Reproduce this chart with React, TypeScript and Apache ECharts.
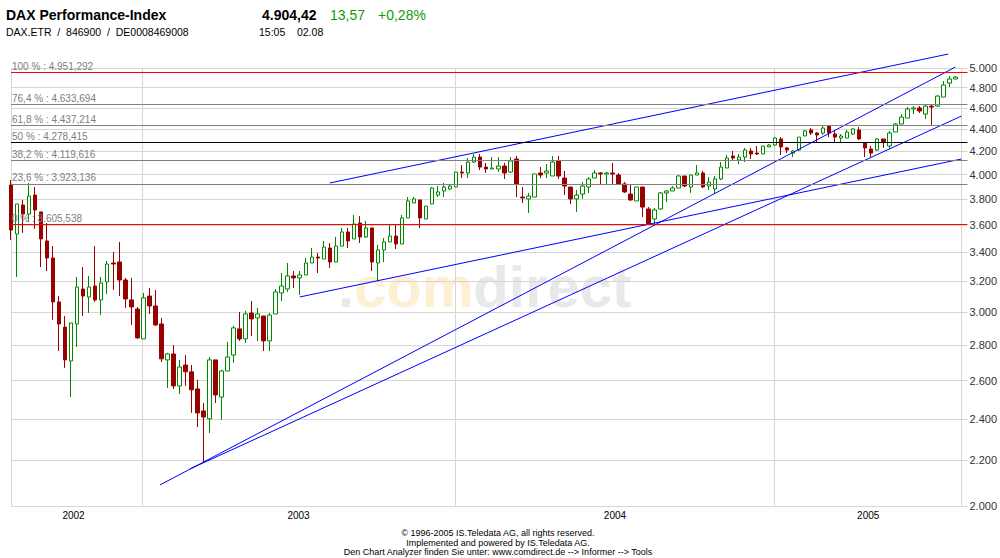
import React, { useEffect, useRef } from "react";
import * as echarts from "echarts";

// weekly DAX candles, index 0 = first visible week (mid 2002) ... 157 = week of 02.08.2005
const openValues = [
  3914, 3533, 3754, 3684, 3833, 3700, 3482, 3360, 3065, 2908, 2709, 2927, 3149, 3097, 3169, 3078, 3196, 3325, 3332, 3209,
  3078, 3020, 2837, 3103, 3039, 2927, 2715, 2749, 2571, 2686, 2648, 2555, 2440, 2400, 2715, 2512, 2653, 2743, 2897, 2837,
  2995, 2964, 2976, 2825, 2989, 3123, 3149, 3236, 3223, 3243, 3325, 3367, 3353, 3431, 3332, 3445, 3548, 3497, 3615, 3511,
  3578, 3325, 3417, 3475, 3518, 3460, 3654, 3770, 3794, 3646, 3762, 3833, 3866, 3882, 3898, 4022, 4014, 4107, 4150, 4064,
  4048, 4048, 4073, 4022, 4133, 3817, 3802, 3817, 4014, 4014, 3989, 4116, 3972, 3898, 3802, 3841, 3898, 3972, 4014, 4006,
  4014, 3997, 3923, 3841, 3786, 3898, 3723, 3646, 3723, 3850, 3866, 3890, 3989, 3898, 3997, 4014, 3906, 3882, 3964, 4056,
  4159, 4125, 4150, 4203, 4185, 4177, 4239, 4256, 4310, 4230, 4185, 4212, 4337, 4392, 4364, 4364, 4428, 4355, 4319, 4319,
  4355, 4392, 4274, 4221, 4212, 4310, 4247, 4373, 4447, 4503, 4589, 4599, 4541, 4617, 4617, 4705, 4845, 4886,
];
const highValues = [
  3956, 3762, 3794, 3931, 3898, 3700, 3615, 3445, 3103, 2976, 2933, 3229, 3297, 3236, 3445, 3229, 3339, 3403, 3475, 3223,
  3223, 3033, 3123, 3156, 3143, 2964, 2755, 2801, 2715, 2743, 2686, 2604, 2481, 2731, 2715, 2659, 2819, 2915, 3001, 3008,
  3071, 3027, 2976, 2995, 3149, 3256, 3325, 3270, 3270, 3360, 3431, 3396, 3482, 3467, 3511, 3578, 3578, 3676, 3668, 3631,
  3578, 3453, 3504, 3600, 3600, 3676, 3817, 3817, 3794, 3746, 3898, 3906, 3931, 3923, 4022, 4081, 4142, 4177, 4177, 4099,
  4150, 4150, 4099, 4150, 4159, 3898, 3850, 4006, 4064, 4090, 4159, 4159, 4031, 3898, 3874, 3939, 3980, 4039, 4022, 4022,
  4099, 4014, 3939, 3914, 3898, 3898, 3738, 3731, 3858, 3874, 3906, 3997, 3989, 3997, 4081, 4031, 3980, 3989, 4107, 4168,
  4203, 4177, 4230, 4230, 4247, 4247, 4265, 4327, 4327, 4239, 4212, 4327, 4392, 4410, 4373, 4428, 4428, 4392, 4355, 4392,
  4410, 4419, 4274, 4247, 4319, 4310, 4383, 4456, 4541, 4608, 4617, 4617, 4627, 4627, 4725, 4866, 4917, 4917,
];
const lowValues = [
  3489, 3229, 3541, 3623, 3571, 3297, 3270, 2952, 2766, 2670, 2512, 2789, 2976, 2995, 3065, 2982, 3116, 3143, 3103, 3027,
  2921, 2837, 2837, 2989, 2915, 2703, 2560, 2555, 2528, 2571, 2430, 2359, 2189, 2330, 2481, 2395, 2653, 2698, 2825, 2813,
  2854, 2825, 2766, 2766, 2989, 3071, 3130, 3156, 3110, 3243, 3325, 3256, 3353, 3291, 3332, 3445, 3431, 3497, 3467, 3504,
  3270, 3202, 3332, 3475, 3424, 3460, 3654, 3770, 3578, 3646, 3762, 3817, 3817, 3874, 3898, 3972, 3972, 4099, 4039, 4014,
  4048, 4022, 3964, 4014, 3817, 3770, 3692, 3817, 3972, 3972, 3989, 3964, 3833, 3762, 3700, 3802, 3850, 3972, 3923, 3914,
  3914, 3914, 3850, 3786, 3786, 3661, 3600, 3608, 3715, 3778, 3866, 3890, 3898, 3850, 3997, 3890, 3874, 3841, 3956, 4056,
  4125, 4090, 4107, 4133, 4168, 4177, 4239, 4247, 4168, 4185, 4150, 4203, 4337, 4346, 4274, 4346, 4327, 4283, 4274, 4319,
  4346, 4301, 4150, 4150, 4203, 4230, 4221, 4373, 4447, 4503, 4541, 4551, 4494, 4438, 4608, 4705, 4805, 4886,
];
const closeValues = [
  3563, 3762, 3684, 3825, 3715, 3497, 3360, 3065, 2927, 2715, 2933, 3162, 3103, 3162, 3078, 3189, 3318, 3318, 3209, 3084,
  3033, 2843, 3091, 3039, 2921, 2721, 2749, 2571, 2675, 2648, 2550, 2430, 2409, 2715, 2523, 2653, 2731, 2903, 2837, 2989,
  2958, 2989, 2825, 2982, 3130, 3169, 3236, 3223, 3243, 3325, 3367, 3360, 3438, 3332, 3445, 3548, 3482, 3608, 3511, 3578,
  3332, 3417, 3475, 3518, 3460, 3654, 3786, 3802, 3654, 3746, 3890, 3858, 3898, 3906, 4022, 4014, 4107, 4150, 4064, 4048,
  4056, 4073, 4014, 4116, 3923, 3810, 3825, 4006, 3997, 4031, 4107, 3989, 3906, 3802, 3833, 3906, 3964, 4014, 4006, 4014,
  4006, 3923, 3858, 3794, 3898, 3738, 3608, 3715, 3850, 3866, 3890, 3989, 3906, 3997, 4014, 3898, 3939, 3964, 4064, 4142,
  4142, 4150, 4212, 4177, 4177, 4247, 4256, 4319, 4239, 4212, 4203, 4327, 4383, 4364, 4346, 4410, 4364, 4327, 4337, 4373,
  4401, 4310, 4230, 4185, 4310, 4283, 4364, 4447, 4512, 4589, 4599, 4570, 4617, 4608, 4715, 4825, 4886, 4906,
];

// axes
const yTickValues = [2000, 2200, 2400, 2600, 2800, 3000, 3200, 3400, 3600, 3800, 4000, 4200, 4400, 4600, 4800, 5000];
const yMinValue = 2000;
const yMaxValue = 5000;
const xGridWeeks = [0, 21.75, 73.9, 126.9, 158];
const yearLabelWeeks = [10.4, 47.8, 100.4, 142.5];
const yearLabels = ["2002", "2003", "2004", "2005"];

// Fibonacci retracement levels
const fibNames = ["100 %", "76,4 %", "61,8 %", "50 %", "38,2 %", "23,6 %", "0 %"];
const fibValues = [4951.292, 4633.694, 4437.214, 4278.415, 4119.616, 3923.136, 3605.538];
const fibColors = ["#ff0000", "#808080", "#808080", "#000000", "#808080", "#808080", "#ff0000"];

// trend lines: [week, value] start and end
const trendStarts = [
  [24.75, 2090],
  [29.74, 2161],
  [48.0, 3097],
  [53.0, 3931],
];
const trendEnds = [
  [157.0, 5010],
  [158.0, 4522],
  [158.0, 4133],
  [155.8, 5148],
];

const FONT = "'Liberation Sans', Arial, sans-serif";

const fmtInt = (n: number) => String(Math.round(n)).replace(/\B(?=(\d{3})+(?!\d))/g, ".");
const fmtFib = (v: number) => {
  const [i, d] = v.toFixed(3).split(".");
  return fmtInt(Number(i)) + "," + d;
};

export default function App() {
  const ref = useRef<HTMLDivElement>(null);
  useEffect(() => {
    if (!ref.current) return;
    const chart = echarts.init(ref.current, undefined, { renderer: "svg" });
    const lg = Math.log10;
    const candleData = openValues.map((o, i) => [i, lg(o), lg(closeValues[i]), lg(lowValues[i]), lg(highValues[i])]);
    const yTickLog = yTickValues.map(lg);

    const option: any = {
      animation: false,
      backgroundColor: "#ffffff",
      grid: { left: 11, right: 32, top: 68, bottom: 52, containLabel: false },
      xAxis: {
        type: "value",
        min: 0,
        max: 159,
        axisLine: { show: false },
        axisTick: { show: false, customValues: xGridWeeks },
        splitLine: { show: true, lineStyle: { color: "#d6d6d6", width: 1 } },
        axisLabel: {
          customValues: yearLabelWeeks,
          formatter: (v: number) => {
            const k = yearLabelWeeks.findIndex((w) => Math.abs(w - v) < 0.01);
            return k >= 0 ? yearLabels[k] : "";
          },
          color: "#000",
          fontSize: 10,
          fontFamily: FONT,
          margin: 4,
        },
      },
      yAxis: {
        type: "value",
        position: "right",
        min: lg(yMinValue),
        max: lg(yMaxValue),
        axisLine: { show: false },
        axisTick: { show: false, customValues: yTickLog },
        splitLine: { show: true, lineStyle: { color: "#d6d6d6", width: 1 } },
        axisLabel: {
          customValues: yTickLog,
          formatter: (v: number) => fmtInt(Math.pow(10, v)),
          color: "#333",
          fontSize: 11,
          fontFamily: FONT,
          margin: 2,
        },
      },
      graphic: [
        {
          type: "text",
          x: 338,
          y: 286,
          z: -10,
          silent: true,
          style: {
            text: "{g|.}{o|com}{g|direct}",
            verticalAlign: "middle",
            rich: {
              g: { fill: "#e9e9e9", fontSize: 58, fontWeight: "bold", fontFamily: FONT },
              o: { fill: "#fdefd2", fontSize: 58, fontWeight: "bold", fontFamily: FONT },
            },
          },
        },
        { type: "text", x: 6, y: 15, style: { text: "DAX Performance-Index", fontSize: 14, fontWeight: "bold", fontFamily: FONT, fill: "#000", verticalAlign: "middle" } },
        { type: "text", x: 262, y: 15, style: { text: "4.904,42", fontSize: 14, fontWeight: "bold", fontFamily: FONT, fill: "#000", verticalAlign: "middle" } },
        { type: "text", x: 330, y: 15, style: { text: "13,57", fontSize: 14, fontFamily: FONT, fill: "#119911", verticalAlign: "middle" } },
        { type: "text", x: 378, y: 15, style: { text: "+0,28%", fontSize: 14, fontFamily: FONT, fill: "#119911", verticalAlign: "middle" } },
        { type: "text", x: 6, y: 32, style: { text: "DAX.ETR  /  846900  /  DE0008469008", fontSize: 10.5, fontFamily: FONT, fill: "#000", verticalAlign: "middle" } },
        { type: "text", x: 259, y: 32, style: { text: "15:05    02.08", fontSize: 10.5, fontFamily: FONT, fill: "#000", verticalAlign: "middle" } },
        { type: "text", x: 498, y: 533, style: { text: "© 1996-2005 IS.Teledata AG, all rights reserved.", fontSize: 9, fontFamily: FONT, fill: "#000", align: "center", verticalAlign: "middle" } },
        { type: "text", x: 498, y: 543, style: { text: "Implemented and powered by IS.Teledata AG.", fontSize: 9, fontFamily: FONT, fill: "#000", align: "center", verticalAlign: "middle" } },
        { type: "text", x: 498, y: 552, style: { text: "Den Chart Analyzer finden Sie unter: www.comdirect.de --> Informer --> Tools", fontSize: 9, fontFamily: FONT, fill: "#000", align: "center", verticalAlign: "middle" } },
      ],
      series: [
        {
          type: "line",
          name: "fib",
          data: [],
          z: 1,
          markLine: {
            silent: true,
            symbol: ["none", "none"],
            animation: false,
            precision: 8,
            data: fibValues.map((v, i) => ({
              yAxis: lg(v),
              lineStyle: { color: fibColors[i], width: 1, type: "solid" },
              label: {
                show: true,
                position: "insideStartTop",
                formatter: `${fibNames[i]} : ${fmtFib(v)}`,
                color: "#808080",
                fontSize: 10,
                fontFamily: FONT,
                distance: [1, 1],
              },
            })),
          },
        },
        {
          type: "candlestick",
          name: "DAX",
          data: candleData,
          barWidth: 4,
          z: 3,
          clip: true,
          itemStyle: {
            color: "#ffffff",
            color0: "#990000",
            borderColor: "#008800",
            borderColor0: "#990000",
            borderWidth: 1,
          },
        },
        ...trendStarts.map((s, k) => ({
          type: "line",
          name: "trend" + k,
          data: [
            [s[0], lg(s[1])],
            [trendEnds[k][0], lg(trendEnds[k][1])],
          ],
          symbol: "none",
          clip: false,
          z: 4,
          lineStyle: { color: "#0000ff", width: 1 },
        })),
      ],
    };
    chart.setOption(option);
    return () => chart.dispose();
  }, []);
  return <div ref={ref} style={{ position: "fixed", left: 0, top: 0, width: 1000, height: 558, background: "#fff" }} />;
}
